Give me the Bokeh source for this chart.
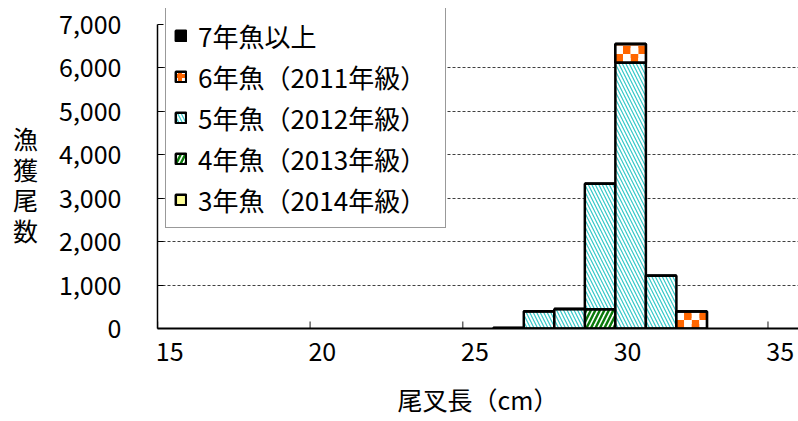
import math
from bokeh.plotting import figure
from bokeh.models import (Range1d, FixedTicker, NumeralTickFormatter, Legend,
                          LegendItem, ColumnDataSource, LinearAxis)
from bokeh.embed import file_html
from bokeh.resources import INLINE

# ---- data ----
bin_left = [26, 27, 28, 29, 30, 31, 32]
bin_width = 1.0
age3 = [0, 0, 0, 0, 0, 0, 0]                 # 3年魚（2014年級）
age4 = [0, 0, 0, 445, 0, 0, 0]               # 4年魚（2013年級）
age5 = [10, 400, 450, 2890, 6125, 1215, 0]   # 5年魚（2012年級）
age6 = [0, 0, 0, 0, 425, 0, 390]             # 6年魚（2011年級）
age7 = [0, 0, 0, 0, 0, 0, 0]                 # 7年魚以上
series_names = ["3年魚（2014年級）", "4年魚（2013年級）", "5年魚（2012年級）",
                "6年魚（2011年級）", "7年魚以上"]
y_ticks = [0, 1000, 2000, 3000, 4000, 5000, 6000, 7000]
x_ticks = [15, 20, 25, 30, 35]
y_max = 7000

JP = "Noto Sans CJK JP"

# frame spans y=8..328 px; 7000 must sit at y=24 px
frame_top, frame_bot, axis_top = 8, 328, 24
y_end = y_max * (frame_bot - frame_top) / (frame_bot - axis_top)

p = figure(width=798, height=421, output_backend="svg", toolbar_location=None,
           x_range=Range1d(15, 36), y_range=Range1d(0, y_end),
           min_border_left=157, min_border_right=0, min_border_top=frame_top,
           min_border_bottom=421 - frame_bot)
p.outline_line_color = None
p.background_fill_color = "white"
p.border_fill_color = "white"
p.xgrid.visible = False
p.ygrid.ticker = FixedTicker(ticks=y_ticks[1:-1])
p.ygrid.grid_line_color = "#404040"
p.ygrid.grid_line_dash = "3 2"
p.ygrid.grid_line_width = 1

# y axis
p.yaxis.ticker = FixedTicker(ticks=y_ticks)
p.yaxis.formatter = NumeralTickFormatter(format="0,0")
p.yaxis.bounds = (0, y_max)
ya = p.yaxis[0]
ya.major_label_text_font = JP
ya.major_label_text_font_size = "25px"
ya.major_label_text_color = "black"
ya.minor_tick_line_color = None
ya.major_tick_in = 6
ya.major_tick_out = 0
ya.axis_line_width = 1.5
ya.axis_line_color = "black"
ya.major_tick_line_color = "black"
ya.major_label_standoff = 36
ya.axis_label = "\n漁\n獲\n尾\n数"
ya.axis_label_orientation = "horizontal"
ya.axis_label_text_font = JP
ya.axis_label_text_font_size = "25px"
ya.axis_label_text_font_style = "normal"
ya.axis_label_text_color = "black"
ya.axis_label_text_line_height = 0.85
ya.axis_label_standoff = 18

# x axis: line
xa = p.xaxis[0]
xa.ticker = FixedTicker(ticks=x_ticks)
xa.major_label_overrides = {t: "" for t in x_ticks}
xa.major_label_standoff = 0
xa.major_label_text_font_size = "1px"
xa.minor_tick_line_color = None
xa.major_tick_in = 0
xa.major_tick_out = 0
xa.axis_line_width = 2
xa.axis_line_color = "black"

# x axis: labels (left edge of each label sits at its tick)
label_shift = 0.4
lab_pos = [round(t + label_shift, 2) for t in x_ticks]
xa2 = LinearAxis(ticker=FixedTicker(ticks=lab_pos),
                 major_label_overrides={lp: str(t) for lp, t in zip(lab_pos, x_ticks)})
xa2.axis_line_color = None
xa2.major_tick_line_color = None
xa2.minor_tick_line_color = None
xa2.major_tick_in = 0
xa2.major_tick_out = 0
xa2.major_label_standoff = 13
xa2.major_label_text_font = JP
xa2.major_label_text_font_size = "25px"
xa2.major_label_text_color = "black"
xa2.axis_label = "尾叉長（cm）"
xa2.axis_label_text_font = JP
xa2.axis_label_text_font_size = "25px"
xa2.axis_label_text_font_style = "normal"
xa2.axis_label_text_color = "black"
xa2.axis_label_standoff = 17
p.add_layout(xa2, "below")

# inside tick marks on the x axis (drawn first, beneath the bars)
p.ray(x=x_ticks, y=[0] * len(x_ticks), length=7, length_units="screen",
      angle=90, angle_units="deg", line_color="#666666", line_width=1.5)

# stacking (zero-height pieces kept so each series has a legend glyph)
stack = [age3, age4, age5, age6, age7]
bottoms = [0.0] * len(bin_left)
segs = []
for vals in stack:
    seg = {"l": [], "r": [], "b": [], "t": []}
    for i, v in enumerate(vals):
        seg["l"].append(bin_left[i])
        seg["r"].append(bin_left[i] + bin_width)
        seg["b"].append(bottoms[i])
        seg["t"].append(bottoms[i] + v)
        bottoms[i] += v
    segs.append(seg)

CYAN = "#33C8C8"
GREEN = "#0B7A0B"
ORANGE = "#FF6600"
styles = [
    dict(fill_color="#FFFF99"),
    dict(fill_color="white", hatch_pattern="/", hatch_color=GREEN,
         hatch_weight=2.5, hatch_scale=9),
    dict(fill_color="white", hatch_pattern="\\", hatch_color=CYAN,
         hatch_weight=1.2, hatch_scale=7),
    dict(fill_color="white", hatch_pattern="+", hatch_color=ORANGE,
         hatch_weight=4, hatch_scale=10),
    dict(fill_color="black"),
]
renderers = []
for k, (seg, st) in enumerate(zip(segs, styles)):
    src = ColumnDataSource(seg)
    r = p.quad(left="l", right="r", bottom="b", top="t", source=src,
               line_color="black", line_width=2.5, **st)
    renderers.append(r)
    if k == 3:
        # checker pattern for 6年魚 drawn over its segments
        dx, dy = 0.25, 195.0
        cells = {0: {"l": [], "r": [], "b": [], "t": []},
                 1: {"l": [], "r": [], "b": [], "t": []}}
        for l, rr, b, t in zip(seg["l"], seg["r"], seg["b"], seg["t"]):
            if t - b <= 0:
                continue
            nx = int(math.ceil((rr - l) / dx - 1e-9))
            ny = int(math.ceil((t - b) / dy - 1e-9))
            for i in range(nx):
                for j in range(ny):
                    c = cells[(i + j) % 2]
                    c["l"].append(l + i * dx)
                    c["r"].append(min(l + (i + 1) * dx, rr))
                    c["b"].append(b + j * dy)
                    c["t"].append(min(b + (j + 1) * dy, t))
        p.quad(left="l", right="r", bottom="b", top="t",
               source=ColumnDataSource(cells[0]), fill_color=ORANGE, line_color=None)
        p.quad(left="l", right="r", bottom="b", top="t",
               source=ColumnDataSource(cells[1]), fill_color="white", line_color=None)
        nz = {key: [v for v, h in zip(seg[key], zip(seg["b"], seg["t"])) if h[1] > h[0]]
              for key in ("l", "r", "b", "t")}
        p.quad(left="l", right="r", bottom="b", top="t", source=ColumnDataSource(nz),
               fill_color=None, line_color="black", line_width=2.5)

items = [LegendItem(label=series_names[k], renderers=[renderers[k]], index=4)
         for k in (4, 3, 2, 1, 0)]
legend = Legend(items=items, location=(8, 100), orientation="vertical")
legend.label_text_font = JP
legend.label_text_font_size = "26px"
legend.label_text_color = "black"
legend.glyph_width = 13
legend.glyph_height = 13
legend.label_height = 40
legend.label_width = 239
legend.label_standoff = 11
legend.spacing = 1
legend.padding = 8
legend.margin = 0
legend.border_line_color = "#333333"
legend.border_line_width = 1
legend.background_fill_color = "white"
legend.background_fill_alpha = 1
p.add_layout(legend, "center")

open("out.html", "w").write(file_html(p, INLINE))
